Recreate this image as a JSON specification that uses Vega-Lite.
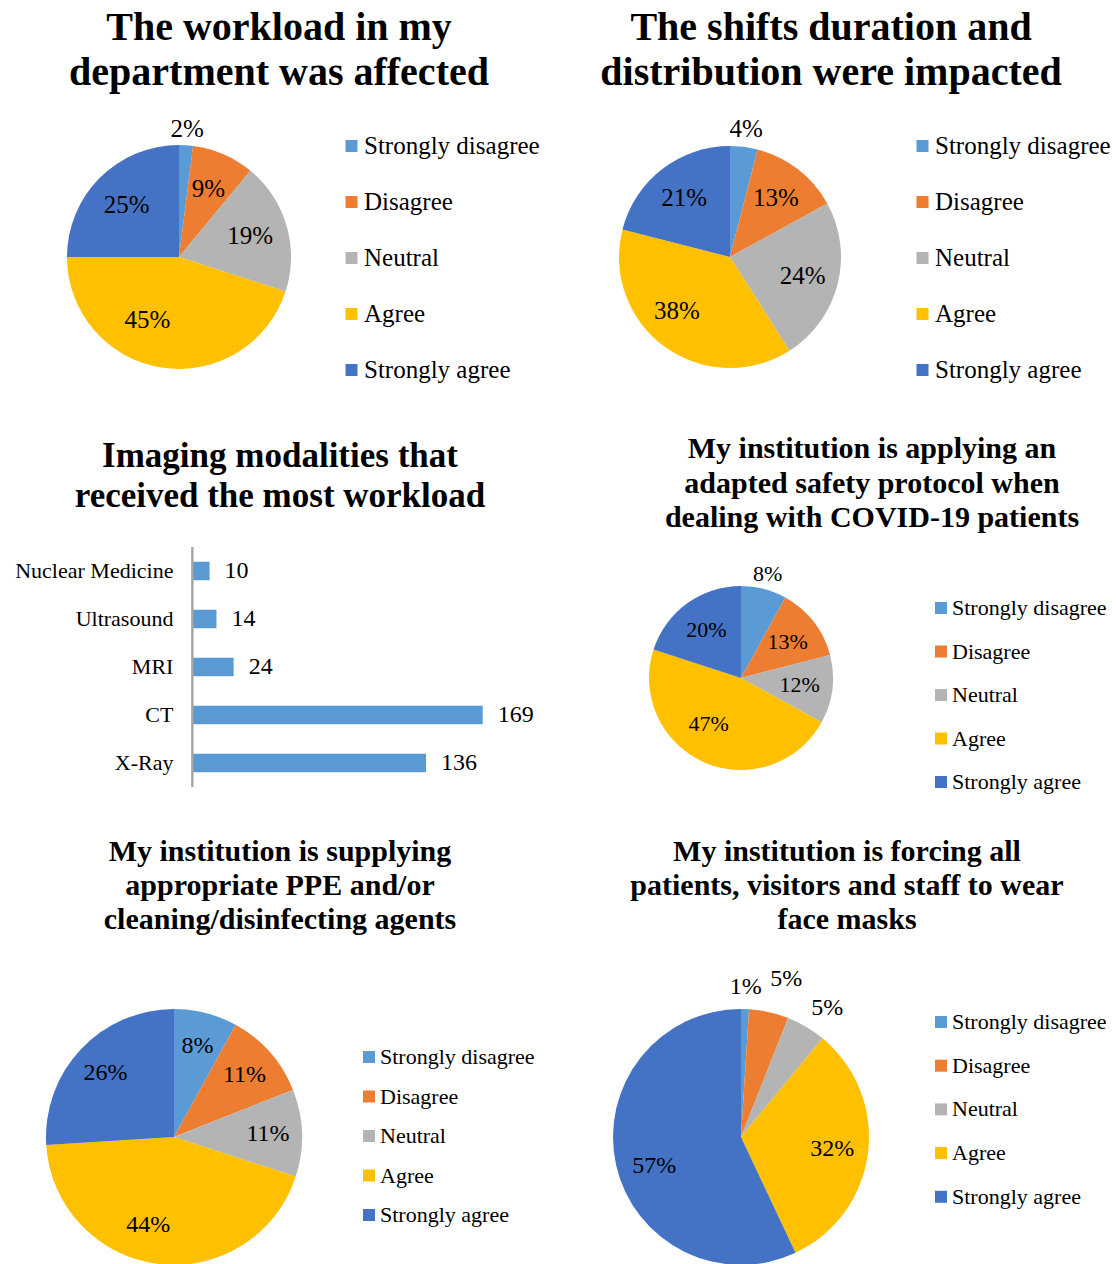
{
  "$schema": "https://vega.github.io/schema/vega-lite/v6.json",
  "padding": {"top": 8, "left": 0, "right": 0, "bottom": 0},
  "background": "white",
  "columns": 2,
  "bounds": "flush",
  "align": "each",
  "spacing": {"row": 200, "column": 24},
  "resolve": {"scale": {"color": "independent", "theta": "independent"}, "legend": {"color": "independent"}},
  "config": {
    "view": {"stroke": null},
    "font": "Liberation Serif",
    "title": {"font": "Liberation Serif", "fontWeight": "bold", "color": "#000000", "anchor": "middle", "frame": "group", "baseline": "bottom"},
    "text": {"font": "Liberation Serif", "color": "#000000"},
    "legend": {"labelFont": "Liberation Serif", "labelColor": "#000000", "symbolType": "square", "symbolStrokeWidth": 0, "padding": 0, "labelOffset": 0, "symbolSize": 144, "labelLimit": 400}
  },
  "concat": [
    {
      "width": 358, "height": 180,
      "title": {"text": ["The workload in my", "department was affected"], "fontSize": 40, "lineHeight": 45, "dx": 100, "offset": 24},
      "data": {"values": [
        {"r": "Strongly disagree", "p": 0.02, "o": 1},
        {"r": "Disagree", "p": 0.09, "o": 2},
        {"r": "Neutral", "p": 0.19, "o": 3},
        {"r": "Agree", "p": 0.45, "o": 4},
        {"r": "Strongly agree", "p": 0.25, "o": 5}
      ]},
      "layer": [
        {"mark": {"type": "arc", "outerRadius": 112},
         "encoding": {
           "theta": {"field": "p", "type": "quantitative", "stack": true},
           "order": {"field": "o", "type": "quantitative"},
           "color": {"field": "r", "type": "nominal", "scale": {"domain": ["Strongly disagree", "Disagree", "Neutral", "Agree", "Strongly agree"], "range": ["#5B9BD5", "#ED7D31", "#B4B4B4", "#FFC000", "#4472C4"]},
             "legend": {"orient": "none", "legendX": 339, "legendY": -33.5, "title": null, "labelFontSize": 25, "rowPadding": 30}}
         }},
        {"mark": {"type": "text", "radius": 74, "fontSize": 25},
         "encoding": {
           "theta": {"field": "p", "type": "quantitative", "stack": true},
           "order": {"field": "o", "type": "quantitative"},
           "text": {"condition": {"test": "datum.p >= 0.05 && datum.o != 4", "field": "p", "type": "quantitative", "format": ".0%"}, "value": ""}
         }},
        {"mark": {"type": "text", "radius": 74, "dx": -20, "dy": -10, "fontSize": 25},
         "encoding": {
           "theta": {"field": "p", "type": "quantitative", "stack": true},
           "order": {"field": "o", "type": "quantitative"},
           "text": {"condition": {"test": "datum.o == 4", "field": "p", "type": "quantitative", "format": ".0%"}, "value": ""}
         }},
        {"mark": {"type": "text", "radius": 128, "fontSize": 25},
         "encoding": {
           "theta": {"field": "p", "type": "quantitative", "stack": true},
           "order": {"field": "o", "type": "quantitative"},
           "text": {"condition": {"test": "datum.p < 0.05", "field": "p", "type": "quantitative", "format": ".0%"}, "value": ""}
         }}
      ]
    },
    {
      "width": 340, "height": 180,
      "title": {"text": ["The shifts duration and", "distribution were impacted"], "fontSize": 40, "lineHeight": 45, "dx": 101, "offset": 24},
      "data": {"values": [
        {"r": "Strongly disagree", "p": 0.04, "o": 1},
        {"r": "Disagree", "p": 0.13, "o": 2},
        {"r": "Neutral", "p": 0.24, "o": 3},
        {"r": "Agree", "p": 0.38, "o": 4},
        {"r": "Strongly agree", "p": 0.21, "o": 5}
      ]},
      "layer": [
        {"mark": {"type": "arc", "outerRadius": 111},
         "encoding": {
           "theta": {"field": "p", "type": "quantitative", "stack": true},
           "order": {"field": "o", "type": "quantitative"},
           "color": {"field": "r", "type": "nominal", "scale": {"domain": ["Strongly disagree", "Disagree", "Neutral", "Agree", "Strongly agree"], "range": ["#5B9BD5", "#ED7D31", "#B4B4B4", "#FFC000", "#4472C4"]},
             "legend": {"orient": "none", "legendX": 350, "legendY": -33.5, "title": null, "labelFontSize": 25, "rowPadding": 30}}
         }},
        {"mark": {"type": "text", "radius": 75, "fontSize": 25},
         "encoding": {
           "theta": {"field": "p", "type": "quantitative", "stack": true},
           "order": {"field": "o", "type": "quantitative"},
           "text": {"condition": {"test": "datum.p >= 0.05 && datum.o != 4", "field": "p", "type": "quantitative", "format": ".0%"}, "value": ""}
         }},
        {"mark": {"type": "text", "radius": 75, "dx": -9, "dy": -7, "fontSize": 25},
         "encoding": {
           "theta": {"field": "p", "type": "quantitative", "stack": true},
           "order": {"field": "o", "type": "quantitative"},
           "text": {"condition": {"test": "datum.o == 4", "field": "p", "type": "quantitative", "format": ".0%"}, "value": ""}
         }},
        {"mark": {"type": "text", "radius": 129, "fontSize": 25},
         "encoding": {
           "theta": {"field": "p", "type": "quantitative", "stack": true},
           "order": {"field": "o", "type": "quantitative"},
           "text": {"condition": {"test": "datum.p < 0.05", "field": "p", "type": "quantitative", "format": ".0%"}, "value": ""}
         }}
      ]
    },
    {
      "width": 536, "height": 240,
      "title": {"text": ["Imaging modalities that", "received the most workload"], "fontSize": 35, "lineHeight": 40, "dx": 12, "offset": 32},
      "data": {"values": [
        {"m": "Nuclear Medicine", "n": 10},
        {"m": "Ultrasound", "n": 14},
        {"m": "MRI", "n": 24},
        {"m": "CT", "n": 169},
        {"m": "X-Ray", "n": 136}
      ]},
      "layer": [
        {"mark": {"type": "bar", "color": "#5B9BD5"},
         "encoding": {
           "y": {"field": "m", "type": "nominal", "sort": null, "scale": {"paddingInner": 0.614, "paddingOuter": 0.307}, "axis": null},
           "x": {"field": "n", "type": "quantitative", "scale": {"domain": [-112, 200], "nice": false}, "axis": null}
         }},
        {"mark": {"type": "text", "align": "left", "baseline": "middle", "dx": 15, "fontSize": 24},
         "encoding": {
           "y": {"field": "m", "type": "nominal", "sort": null},
           "x": {"field": "n", "type": "quantitative"},
           "text": {"field": "n", "type": "quantitative"}
         }},
        {"mark": {"type": "text", "align": "right", "baseline": "middle", "dx": -19, "fontSize": 22},
         "encoding": {
           "y": {"field": "m", "type": "nominal", "sort": null},
           "x": {"datum": 0},
           "text": {"field": "m", "type": "nominal"}
         }},
        {"mark": {"type": "rule", "color": "#A6A6A6", "strokeWidth": 1.5},
         "encoding": {"x": {"datum": 0}}}
      ]
    },
    {
      "width": 362, "height": 262,
      "title": {"text": ["My institution is applying an", "adapted safety protocol when", "dealing with COVID-19 patients"], "fontSize": 30, "lineHeight": 34.5, "dx": 131, "offset": 14},
      "data": {"values": [
        {"r": "Strongly disagree", "p": 0.08, "o": 1},
        {"r": "Disagree", "p": 0.13, "o": 2},
        {"r": "Neutral", "p": 0.12, "o": 3},
        {"r": "Agree", "p": 0.47, "o": 4},
        {"r": "Strongly agree", "p": 0.20, "o": 5}
      ]},
      "layer": [
        {"mark": {"type": "arc", "outerRadius": 92},
         "encoding": {
           "theta": {"field": "p", "type": "quantitative", "stack": true},
           "order": {"field": "o", "type": "quantitative"},
           "color": {"field": "r", "type": "nominal", "scale": {"domain": ["Strongly disagree", "Disagree", "Neutral", "Agree", "Strongly agree"], "range": ["#5B9BD5", "#ED7D31", "#B4B4B4", "#FFC000", "#4472C4"]},
             "legend": {"orient": "none", "legendX": 370, "legendY": 50, "title": null, "labelFontSize": 22, "rowPadding": 21.5}}
         }},
        {"mark": {"type": "text", "radius": 59, "fontSize": 22},
         "encoding": {
           "theta": {"field": "p", "type": "quantitative", "stack": true},
           "order": {"field": "o", "type": "quantitative"},
           "text": {"condition": {"test": "datum.p >= 0.1 && datum.o != 4", "field": "p", "type": "quantitative", "format": ".0%"}, "value": ""}
         }},
        {"mark": {"type": "text", "radius": 59, "dx": -9, "dy": -8, "fontSize": 22},
         "encoding": {
           "theta": {"field": "p", "type": "quantitative", "stack": true},
           "order": {"field": "o", "type": "quantitative"},
           "text": {"condition": {"test": "datum.o == 4", "field": "p", "type": "quantitative", "format": ".0%"}, "value": ""}
         }},
        {"mark": {"type": "text", "radius": 107, "fontSize": 22},
         "encoding": {
           "theta": {"field": "p", "type": "quantitative", "stack": true},
           "order": {"field": "o", "type": "quantitative"},
           "text": {"condition": {"test": "datum.p < 0.1", "field": "p", "type": "quantitative", "format": ".0%"}, "value": ""}
         }}
      ]
    },
    {
      "width": 348, "height": 256,
      "title": {"text": ["My institution is supplying", "appropriate PPE and/or", "cleaning/disinfecting agents"], "fontSize": 30, "lineHeight": 34, "dx": 106, "offset": 74},
      "data": {"values": [
        {"r": "Strongly disagree", "p": 0.08, "o": 1},
        {"r": "Disagree", "p": 0.11, "o": 2},
        {"r": "Neutral", "p": 0.11, "o": 3},
        {"r": "Agree", "p": 0.44, "o": 4},
        {"r": "Strongly agree", "p": 0.26, "o": 5}
      ]},
      "layer": [
        {"mark": {"type": "arc", "outerRadius": 128},
         "encoding": {
           "theta": {"field": "p", "type": "quantitative", "stack": true},
           "order": {"field": "o", "type": "quantitative"},
           "color": {"field": "r", "type": "nominal", "scale": {"domain": ["Strongly disagree", "Disagree", "Neutral", "Agree", "Strongly agree"], "range": ["#5B9BD5", "#ED7D31", "#B4B4B4", "#FFC000", "#4472C4"]},
             "legend": {"orient": "none", "legendX": 358, "legendY": 37, "title": null, "labelFontSize": 22, "rowPadding": 17.5}}
         }},
        {"mark": {"type": "text", "radius": 94, "fontSize": 24},
         "encoding": {
           "theta": {"field": "p", "type": "quantitative", "stack": true},
           "order": {"field": "o", "type": "quantitative"},
           "text": {"condition": {"test": "datum.o != 4", "field": "p", "type": "quantitative", "format": ".0%"}, "value": ""}
         }},
        {"mark": {"type": "text", "radius": 94, "dx": -14, "dy": -5, "fontSize": 24},
         "encoding": {
           "theta": {"field": "p", "type": "quantitative", "stack": true},
           "order": {"field": "o", "type": "quantitative"},
           "text": {"condition": {"test": "datum.o == 4", "field": "p", "type": "quantitative", "format": ".0%"}, "value": ""}
         }}
      ]
    },
    {
      "width": 362, "height": 256,
      "title": {"text": ["My institution is forcing all", "patients, visitors and staff to wear", "face masks"], "fontSize": 30, "lineHeight": 34, "dx": 106, "offset": 28},
      "data": {"values": [
        {"r": "Strongly disagree", "p": 0.01, "o": 1},
        {"r": "Disagree", "p": 0.05, "o": 2},
        {"r": "Neutral", "p": 0.05, "o": 3},
        {"r": "Agree", "p": 0.32, "o": 4},
        {"r": "Strongly agree", "p": 0.57, "o": 5}
      ]},
      "layer": [
        {"mark": {"type": "arc", "outerRadius": 128},
         "encoding": {
           "theta": {"field": "p", "type": "quantitative", "stack": true},
           "order": {"field": "o", "type": "quantitative"},
           "color": {"field": "r", "type": "nominal", "scale": {"domain": ["Strongly disagree", "Disagree", "Neutral", "Agree", "Strongly agree"], "range": ["#5B9BD5", "#ED7D31", "#B4B4B4", "#FFC000", "#4472C4"]},
             "legend": {"orient": "none", "legendX": 370, "legendY": 2, "title": null, "labelFontSize": 22, "rowPadding": 21.7}}
         }},
        {"mark": {"type": "text", "radius": 92, "fontSize": 24},
         "encoding": {
           "theta": {"field": "p", "type": "quantitative", "stack": true},
           "order": {"field": "o", "type": "quantitative"},
           "text": {"condition": {"test": "datum.o == 4", "field": "p", "type": "quantitative", "format": ".0%"}, "value": ""}
         }},
        {"mark": {"type": "text", "radius": 92, "dx": 3, "dy": 9, "fontSize": 24},
         "encoding": {
           "theta": {"field": "p", "type": "quantitative", "stack": true},
           "order": {"field": "o", "type": "quantitative"},
           "text": {"condition": {"test": "datum.o == 5", "field": "p", "type": "quantitative", "format": ".0%"}, "value": ""}
         }},
        {"mark": {"type": "text", "radius": 150, "fontSize": 24},
         "encoding": {
           "theta": {"field": "p", "type": "quantitative", "stack": true},
           "order": {"field": "o", "type": "quantitative"},
           "text": {"condition": {"test": "datum.o == 1", "field": "p", "type": "quantitative", "format": ".0%"}, "value": ""}
         }},
        {"mark": {"type": "text", "radius": 162, "dx": 10, "fontSize": 24},
         "encoding": {
           "theta": {"field": "p", "type": "quantitative", "stack": true},
           "order": {"field": "o", "type": "quantitative"},
           "text": {"condition": {"test": "datum.o == 2", "field": "p", "type": "quantitative", "format": ".0%"}, "value": ""}
         }},
        {"mark": {"type": "text", "radius": 150, "dx": 10, "fontSize": 24},
         "encoding": {
           "theta": {"field": "p", "type": "quantitative", "stack": true},
           "order": {"field": "o", "type": "quantitative"},
           "text": {"condition": {"test": "datum.o == 3", "field": "p", "type": "quantitative", "format": ".0%"}, "value": ""}
         }}
      ]
    }
  ]
}
